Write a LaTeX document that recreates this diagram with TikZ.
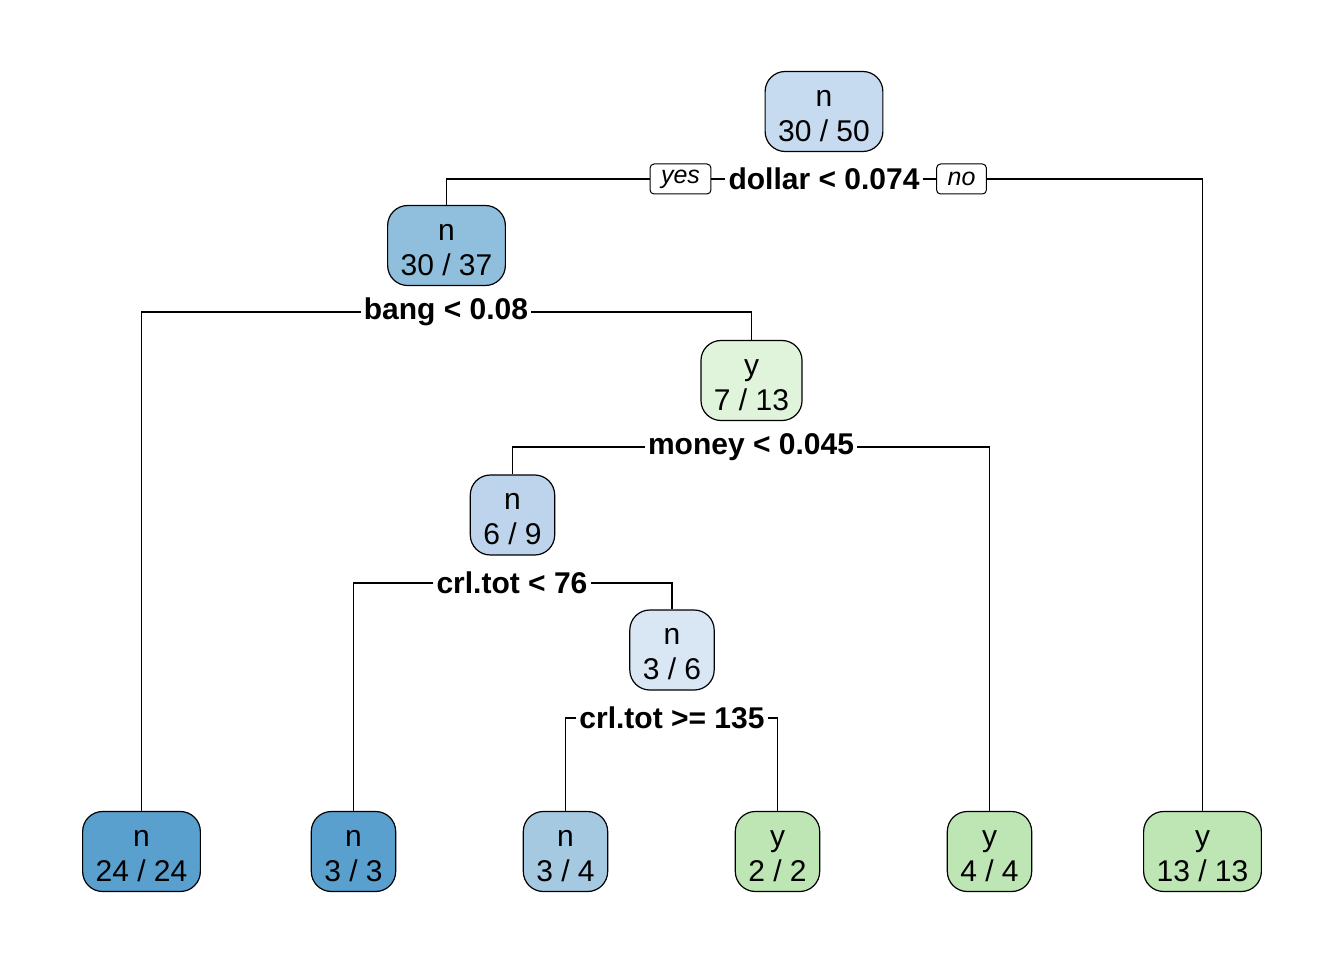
\documentclass[tikz,border=0pt]{standalone}
\usepackage{fontspec}
\setmainfont{Liberation Sans}
\usetikzlibrary{positioning}
\definecolor{c0}{HTML}{C6DBEF}
\definecolor{c1}{HTML}{8FBFDC}
\definecolor{c2}{HTML}{E0F3DB}
\definecolor{c3}{HTML}{BDD4EC}
\definecolor{c4}{HTML}{D9E7F5}
\definecolor{c5}{HTML}{5AA0CE}
\definecolor{c6}{HTML}{A6C9E2}
\definecolor{c7}{HTML}{BEE6B4}
\newcommand{\tup}{\rule{0pt}{24.5pt}}
\tikzset{
  tnode/.style={draw=black, line width=1.2pt, fill=#1, rounded corners=20pt,
    inner xsep=13pt, inner ysep=0pt, minimum height=80pt, align=center,
    font=\fontsize{30}{35}\selectfont},
  split/.style={fill=white, inner xsep=3pt, inner ysep=1pt,
    font=\fontsize{30}{35}\selectfont\bfseries},
  yn/.style={draw=black, line width=1pt, fill=white, rounded corners=4pt,
    inner xsep=11pt, inner ysep=0pt, minimum height=30pt,
    font=\fontsize{25}{28}\selectfont\itshape},
  edge/.style={line width=1.1pt}
}
\begin{document}
\begin{tikzpicture}[x=1pt,y=-1pt]
\useasboundingbox (0,0) rectangle (1344,960);
% nodes
\node[tnode=c0] (r) at (824,111.5) {\tup n\\30 / 50};
\node[tnode=c1] (a) at (446.5,245.5) {\tup n\\30 / 37};
\node[tnode=c2] (b) at (751.5,380.5) {\tup y\\7 / 13};
\node[tnode=c3] (c) at (512.5,515) {\tup n\\6 / 9};
\node[tnode=c4] (d) at (672,650) {\tup n\\3 / 6};
\node[tnode=c5] (l1) at (141.5,851.5) {\tup n\\24 / 24};
\node[tnode=c5] (l2) at (353.5,851.5) {\tup n\\3 / 3};
\node[tnode=c6] (l3) at (565.5,851.5) {\tup n\\3 / 4};
\node[tnode=c7] (l4) at (777.5,851.5) {\tup y\\2 / 2};
\node[tnode=c7] (l5) at (989.5,851.5) {\tup y\\4 / 4};
\node[tnode=c7] (l6) at (1202.5,851.5) {\tup y\\13 / 13};
% split labels
\node[split] (s0) at (824,179) {dollar < 0.074};
\node[yn] (yes) at (680.5,179) {yes};
\node[yn] (no) at (961.5,179) {no};
\node[split] (s1) at (446,312) {bang < 0.08};
\node[split] (s2) at (751,447) {money < 0.045};
\node[split] (s3) at (512,583) {crl.tot < 76};
\node[split] (s4) at (672,718) {crl.tot >= 135};
% edges
\draw[edge] (yes.west) -| (a.north);
\draw[edge] (yes.east) -- (s0.west);
\draw[edge] (s0.east) -- (no.west);
\draw[edge] (no.east) -| (l6.north);
\draw[edge] (s1.west) -| (l1.north);
\draw[edge] (s1.east) -| (b.north);
\draw[edge] (s2.west) -| (c.north);
\draw[edge] (s2.east) -| (l5.north);
\draw[edge] (s3.west) -| (l2.north);
\draw[edge] (s3.east) -| (d.north);
\draw[edge] (s4.west) -| (l3.north);
\draw[edge] (s4.east) -| (l4.north);
\end{tikzpicture}
\end{document}
